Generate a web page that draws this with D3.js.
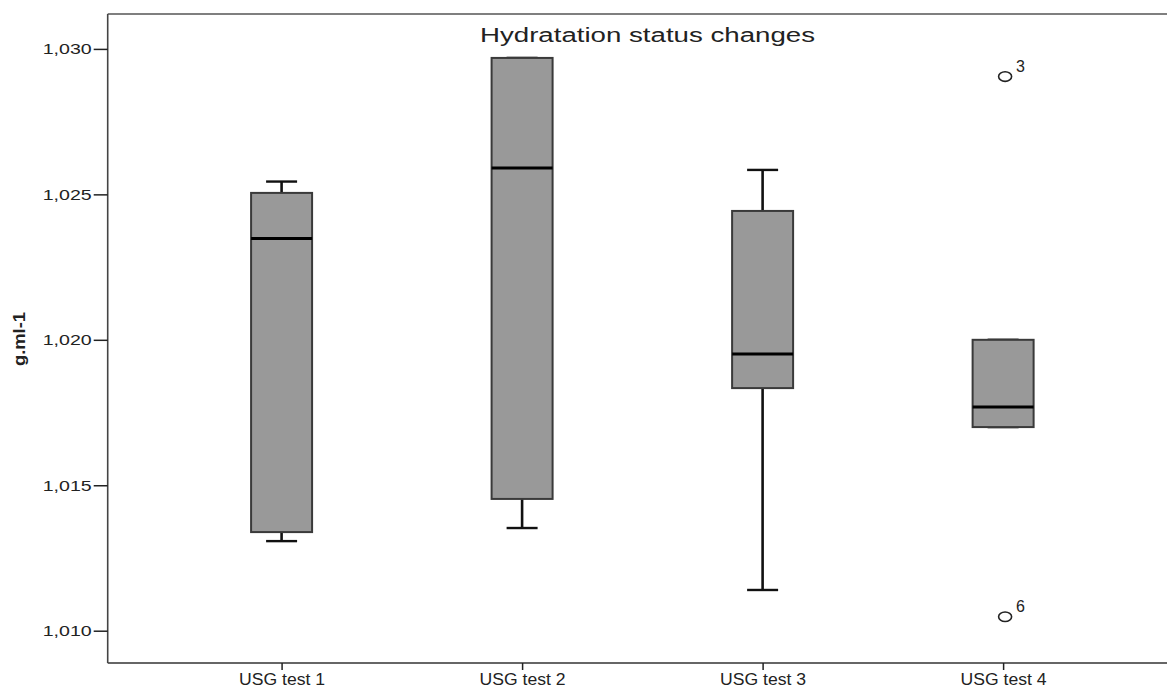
<!DOCTYPE html>
<html>
<head>
<meta charset="utf-8">
<script src="https://cdn.jsdelivr.net/npm/d3@7"></script>
<style>
  body { margin: 0; background: #fff; }
  svg { display: block; }
  text { font-family: "Liberation Sans", Arial, sans-serif; fill: #222; }
</style>
</head>
<body>
<div id="chart"></div>
<script>
// data
const categories = ["USG test 1", "USG test 2", "USG test 3", "USG test 4"];
const whiskerLow  = [1.01308, 1.01353, 1.01140, 1.01700];
const q1Values    = [1.01339, 1.01453, 1.01834, 1.01700];
const medians     = [1.02348, 1.02591, 1.01951, 1.01769];
const q3Values    = [1.02505, 1.02969, 1.02443, 1.02000];
const whiskerHigh = [1.02544, 1.02969, 1.02584, 1.02000];
const outliers = [
  {cat: 3, value: 1.02905, label: "3"},
  {cat: 3, value: 1.01048, label: "6"}
];
const yTicks = [1.010, 1.015, 1.020, 1.025, 1.030];

const width = 1167, height = 690;
const plotLeft = 107.7, plotTop = 14, plotBottom = 663;

const svg = d3.select("#chart").append("svg")
  .attr("width", width)
  .attr("height", height);

// category index -> x (frame runs off the right edge)
const x = d3.scaleLinear().domain([0.277, 4.723]).range([plotLeft, 1177]);
const y = d3.scaleLinear().domain([1.00889, 1.0312]).range([plotBottom, plotTop]);

const boxes = categories.map((c, i) => ({
  cat: i, name: c,
  lo: whiskerLow[i], q1: q1Values[i], med: medians[i], q3: q3Values[i], hi: whiskerHigh[i]
}));

const boxW = 61, capW = 31;

// whiskers
const g = svg.append("g");
boxes.forEach(d => {
  const cx = x(d.cat + 1);
  g.append("line").attr("x1", cx).attr("x2", cx).attr("y1", y(d.hi)).attr("y2", y(d.q3))
    .attr("stroke", "#111").attr("stroke-width", 2.6);
  g.append("line").attr("x1", cx).attr("x2", cx).attr("y1", y(d.q1)).attr("y2", y(d.lo))
    .attr("stroke", "#111").attr("stroke-width", 2.6);
  g.append("line").attr("x1", cx - capW / 2).attr("x2", cx + capW / 2).attr("y1", y(d.hi)).attr("y2", y(d.hi))
    .attr("stroke", "#111").attr("stroke-width", 2.4);
  g.append("line").attr("x1", cx - capW / 2).attr("x2", cx + capW / 2).attr("y1", y(d.lo)).attr("y2", y(d.lo))
    .attr("stroke", "#111").attr("stroke-width", 2.4);
});

// boxes
g.selectAll("rect.box").data(boxes).enter().append("rect")
  .attr("class", "box")
  .attr("x", d => x(d.cat + 1) - boxW / 2)
  .attr("width", boxW)
  .attr("y", d => y(d.q3))
  .attr("height", d => y(d.q1) - y(d.q3))
  .attr("fill", "#999999")
  .attr("stroke", "#3a3a3a")
  .attr("stroke-width", 2);

// medians
g.selectAll("line.med").data(boxes).enter().append("line")
  .attr("class", "med")
  .attr("x1", d => x(d.cat + 1) - boxW / 2)
  .attr("x2", d => x(d.cat + 1) + boxW / 2)
  .attr("y1", d => y(d.med))
  .attr("y2", d => y(d.med))
  .attr("stroke", "#000")
  .attr("stroke-width", 3);

// outliers
const og = svg.append("g");
og.selectAll("ellipse").data(outliers).enter().append("ellipse")
  .attr("cx", d => x(d.cat + 1) + 2)
  .attr("cy", d => y(d.value))
  .attr("rx", 6.5).attr("ry", 4.8)
  .attr("fill", "none")
  .attr("stroke", "#222")
  .attr("stroke-width", 1.6);
og.selectAll("text").data(outliers).enter().append("text")
  .attr("x", d => x(d.cat + 1) + 13)
  .attr("y", d => y(d.value) - 5)
  .attr("font-size", 16)
  .text(d => d.label);

// frame
svg.append("line").attr("x1", plotLeft).attr("x2", width).attr("y1", plotTop).attr("y2", plotTop)
  .attr("stroke", "#555").attr("stroke-width", 1.6);
svg.append("line").attr("x1", plotLeft).attr("x2", width).attr("y1", plotBottom).attr("y2", plotBottom)
  .attr("stroke", "#333").attr("stroke-width", 1.6);
svg.append("line").attr("x1", plotLeft).attr("x2", plotLeft).attr("y1", plotTop).attr("y2", plotBottom)
  .attr("stroke", "#444").attr("stroke-width", 1.6);

// y axis
const yAxis = svg.append("g")
  .attr("transform", `translate(${plotLeft},0)`)
  .call(d3.axisLeft(y).tickValues(yTicks).tickSize(14).tickPadding(2)
    .tickFormat(d => d3.format(".3f")(d).replace(".", ",")));
yAxis.select(".domain").remove();
yAxis.selectAll(".tick line").attr("stroke", "#222").attr("stroke-width", 1.5);
yAxis.selectAll(".tick text")
  .attr("font-family", "Liberation Sans, Arial, sans-serif")
  .attr("font-size", 15.5)
  .attr("fill", "#222")
  .attr("textLength", 49)
  .attr("lengthAdjust", "spacingAndGlyphs");

// x axis
const xAxis = svg.append("g")
  .attr("transform", `translate(0,${plotBottom})`)
  .call(d3.axisBottom(x).tickValues([1, 2, 3, 4]).tickSize(7).tickPadding(4)
    .tickFormat(d => categories[d - 1]));
xAxis.select(".domain").remove();
xAxis.selectAll(".tick line").attr("stroke", "#222").attr("stroke-width", 1.5);
xAxis.selectAll(".tick text")
  .attr("font-family", "Liberation Sans, Arial, sans-serif")
  .attr("font-size", 16)
  .attr("fill", "#222")
  .attr("textLength", 86)
  .attr("lengthAdjust", "spacingAndGlyphs");

// title
svg.append("text")
  .attr("x", 480).attr("y", 42)
  .attr("font-size", 20)
  .attr("textLength", 335)
  .attr("lengthAdjust", "spacingAndGlyphs")
  .text("Hydratation status changes");

// y axis title
svg.append("text")
  .attr("transform", "translate(25,339) rotate(-90)")
  .attr("text-anchor", "middle")
  .attr("font-size", 17)
  .attr("font-weight", "bold")
  .attr("textLength", 54)
  .attr("lengthAdjust", "spacingAndGlyphs")
  .text("g.ml-1");
</script>
</body>
</html>
